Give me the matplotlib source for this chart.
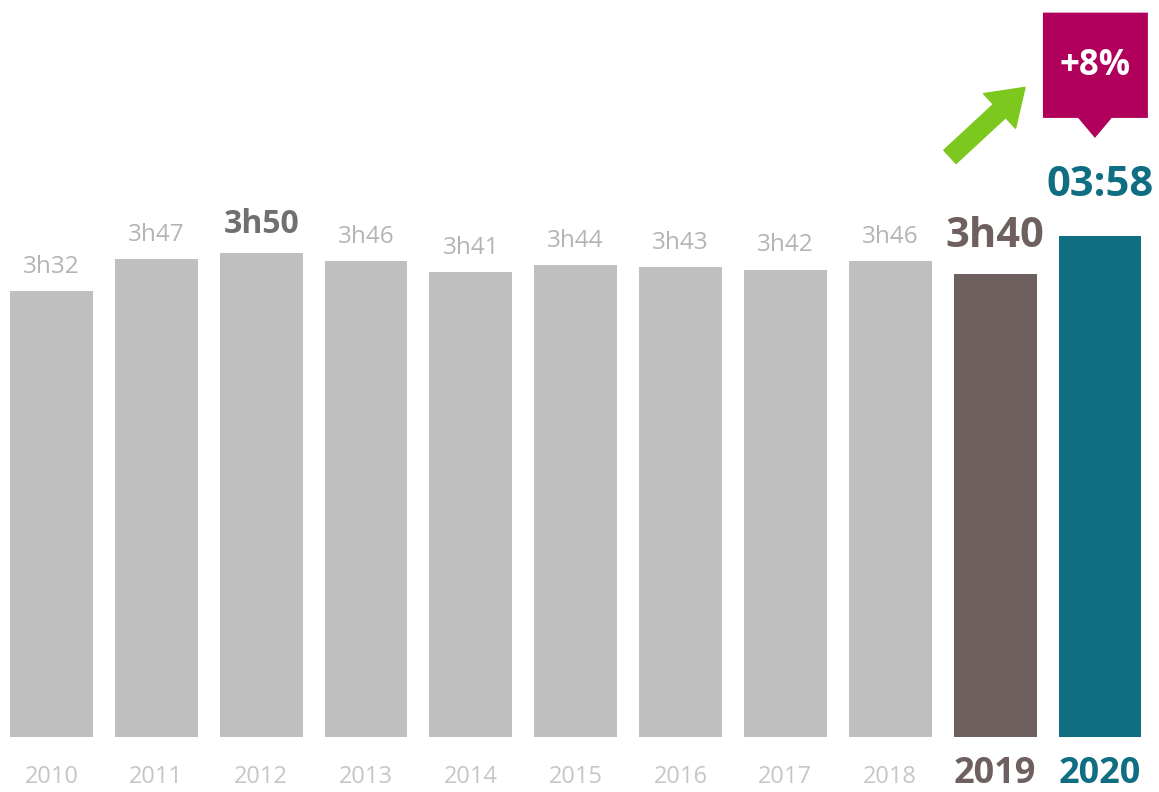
import matplotlib.pyplot as plt
from matplotlib.patches import Polygon

plt.rcParams['font.family'] = ['Open Sans', 'DejaVu Sans']

years = ['2010', '2011', '2012', '2013', '2014', '2015', '2016', '2017', '2018', '2019', '2020']
# average daily viewing time, in minutes
minutes = [212, 227, 230, 226, 221, 224, 223, 222, 226, 220, 238]
change_label = '+8%'

GRAY = '#bfbfbf'
BROWN = '#6e605f'
TEAL = '#0f6e82'
MAGENTA = '#b0005c'
GREEN = '#7cc81e'

bar_colors = [GRAY] * 9 + [BROWN, TEAL]


def hm(m, sep='h'):
    if sep == ':':
        return f'{m // 60:02d}:{m % 60:02d}'
    return f'{m // 60}h{m % 60:02d}'


fig = plt.figure(figsize=(11.59, 7.92), dpi=100)
ax = fig.add_axes([0, 55 / 792, 1, 737 / 792])
x = list(range(len(years)))
ax.bar(x, minutes, width=0.79, color=bar_colors)
ax.set_xlim(-0.491, 10.563)
ax.set_ylim(0, 350)
for s in ax.spines.values():
    s.set_visible(False)
ax.set_yticks([])
ax.set_xticks([])

# year labels under the bars
for i, yr in enumerate(years):
    if i < 9:
        size, weight, col, off = 17, 'normal', '#c6c6c6', 33
    else:
        size, weight, col, off = 26, 'bold', bar_colors[i], 33
    ax.annotate(yr, (i, 0), xycoords=('data', 'axes fraction'), xytext=(0, -off),
                textcoords='offset points', ha='center', va='baseline',
                fontsize=size, fontweight=weight, color=col, annotation_clip=False)

# value labels above bars
for i, m in enumerate(minutes):
    if i < 9:
        size, weight, col, off = 17.5, 'normal', '#b4b4b4', 13
        if i == 2:
            size, weight, col, off = 23, 'bold', '#707070', 14
        txt = hm(m)
    elif i == 9:
        size, weight, col, off, txt = 30, 'bold', BROWN, 19, hm(m)
    else:
        size, weight, col, off, txt = 30, 'bold', TEAL, 29, hm(m, ':')
    ax.annotate(txt, (i, m), xytext=(0, off), textcoords='offset points',
                ha='center', va='baseline', fontsize=size, fontweight=weight, color=col)

# callout box with the yearly change
cx = 9.952
box = Polygon([(9.456, 344), (10.457, 344), (10.457, 294), (cx + 0.16, 294),
               (cx, 284.5), (cx - 0.16, 294), (9.456, 294)],
              closed=True, facecolor=MAGENTA, edgecolor='none', clip_on=False)
ax.add_patch(box)
ax.text(cx, 318.5, change_label, ha='center', va='center', color='white',
        fontsize=25, fontweight='bold')

ax.annotate('', xy=(9.285, 308.5), xytext=(8.569, 275.5),
            arrowprops=dict(arrowstyle='simple,head_width=34,head_length=25,tail_width=13',
                            mutation_scale=1, color=GREEN, shrinkA=0, shrinkB=0))

fig.savefig('out.png', dpi=100)
